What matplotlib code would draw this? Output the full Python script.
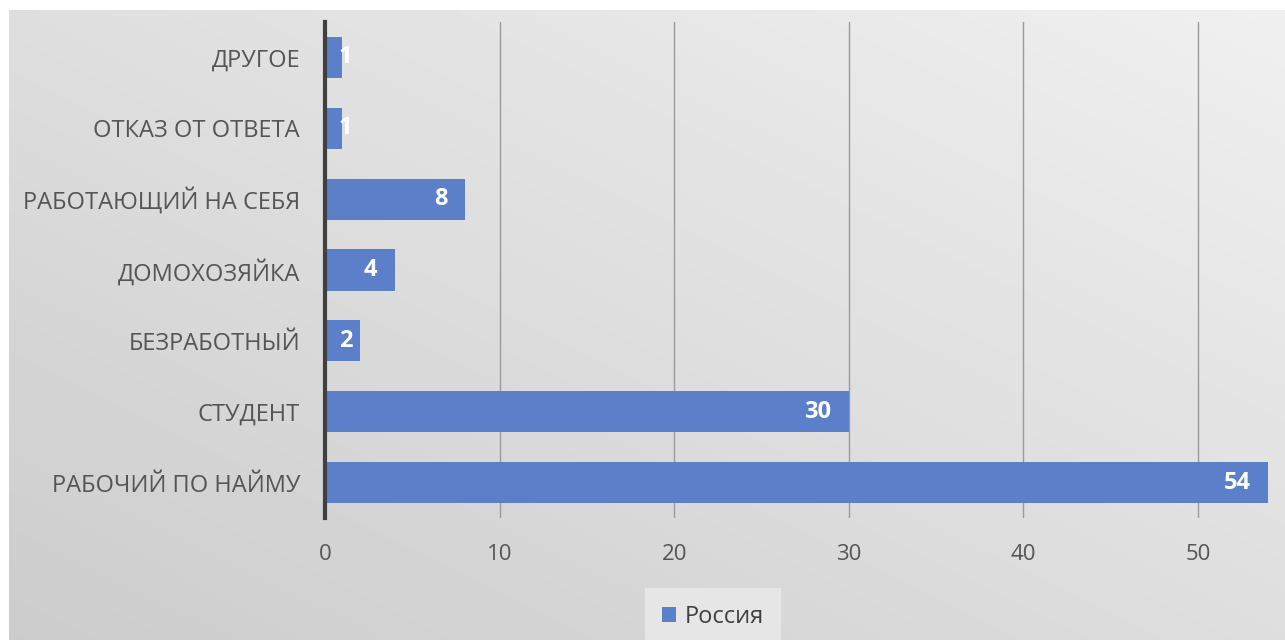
import numpy as np
import matplotlib.pyplot as plt

# categories from bottom to top
categories = ['РАБОЧИЙ ПО НАЙМУ', 'СТУДЕНТ', 'БЕЗРАБОТНЫЙ', 'ДОМОХОЗЯЙКА',
              'РАБОТАЮЩИЙ НА СЕБЯ', 'ОТКАЗ ОТ ОТВЕТА', 'ДРУГОЕ']
values = [54, 30, 2, 4, 8, 1, 1]
series_name = 'Россия'
xticks = [0, 10, 20, 30, 40, 50]

plt.rcParams['font.family'] = ['Open Sans', 'DejaVu Sans']

W, H = 1285, 640
fig = plt.figure(figsize=(W / 100, H / 100), dpi=100)
fig.patch.set_facecolor('white')

# gradient backdrop of the chart area
bg = fig.add_axes([9 / W, 0, 1 - 9 / W, 1 - 10 / H])
gx, gy = np.meshgrid(np.linspace(0, 1, 300), np.linspace(0, 1, 200))
light = 0.80 + 0.07 * gx + 0.07 * gy
bg.imshow(light, cmap='gray', vmin=0, vmax=1, origin='lower',
          aspect='auto', extent=[0, 1, 0, 1], interpolation='bilinear')
bg.axis('off')

ax = fig.add_axes([325 / W, 122 / H, 960 / W, 496 / H])
ax.patch.set_alpha(0)

y = np.arange(len(categories))
bars = ax.barh(y, values, height=0.58, color='#5b7fc8', zorder=3,
               label=series_name)

ax.set_xlim(0, 960 / 17.46)
ax.set_ylim(-0.5, len(categories) - 0.5)
ax.set_xticks(xticks)
ax.set_yticks(y)
ax.set_yticklabels(categories)
ax.grid(axis='x', color='#9a9a9a', linewidth=1.0, zorder=1)
ax.set_axisbelow(True)

for s in ['top', 'right', 'bottom']:
    ax.spines[s].set_visible(False)
ax.spines['left'].set_color('#404040')
ax.spines['left'].set_linewidth(3)
ax.spines['left'].set_zorder(4)

ax.tick_params(axis='both', length=0, colors='#555555')
ax.tick_params(axis='y', labelsize=17, pad=18)
ax.tick_params(axis='x', labelsize=16, pad=19)

# value labels at the inside end of each bar
for b, v in zip(bars, values):
    ax.text(max(v - 1.0, 1.55), b.get_y() + b.get_height() / 2, str(v),
            ha='right', va='center', color='white', fontsize=17,
            fontweight='bold', zorder=5)

leg = fig.legend(loc='center', bbox_to_anchor=(713 / W, 1 - 617 / H),
                 fontsize=17, frameon=True, fancybox=False,
                 handlelength=0.6, handleheight=0.6, handletextpad=0.4,
                 borderpad=0.7, labelcolor='#404040')
leg.get_frame().set_facecolor('#e6e6e6')
leg.get_frame().set_edgecolor('none')
leg.get_frame().set_alpha(1)

fig.savefig('out.png', dpi=100)
